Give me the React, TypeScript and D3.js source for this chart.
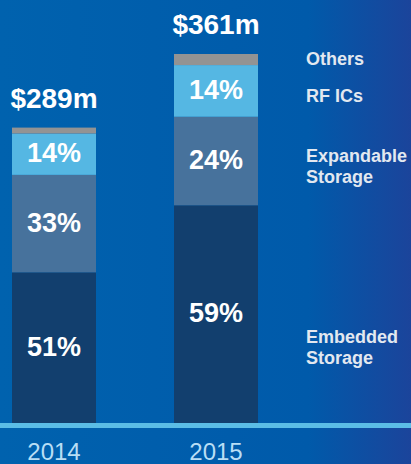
import * as d3 from "d3";
import React, { useRef, useEffect } from "react";

// chart data
const years = ["2014", "2015"];
const totals = [289, 361];
const segmentNames = ["Embedded Storage", "Expandable Storage", "RF ICs", "Others"];
const embedded = [51, 59];
const expandable = [33, 24];
const rfics = [14, 14];
const others = [2, 3];
const legendLines = [["Embedded", "Storage"], ["Expandable", "Storage"], ["RF ICs"], ["Others"]];

const W = 411;
const H = 464;
const FONT = "'Liberation Sans', Arial, Helvetica, sans-serif";

function App() {
  const svgRef = useRef<SVGSVGElement | null>(null);

  useEffect(() => {
    const svg = d3.select(svgRef.current);
    svg.selectAll("*").remove();

    const baseline = 423;
    const colors = ["#123f6e", "#47729c", "#55b7e3", "#939393"];

    // background gradient
    const defs = svg.append("defs");
    const grad = defs
      .append("linearGradient")
      .attr("id", "bg")
      .attr("x1", "0")
      .attr("x2", "1")
      .attr("y1", "0")
      .attr("y2", "0");
    grad.append("stop").attr("offset", "0").attr("stop-color", "#0062ae");
    grad.append("stop").attr("offset", "0.75").attr("stop-color", "#005aaa");
    grad.append("stop").attr("offset", "1").attr("stop-color", "#1b449b");
    svg.append("rect").attr("width", W).attr("height", H).attr("fill", "url(#bg)");

    // bar widths of 84 with a gap of 78
    const x = d3.scaleBand().domain(years).range([12, 258]).paddingInner(78 / 162).paddingOuter(0);
    const y = d3.scaleLinear().domain([0, 361]).range([baseline, 54]);

    // stacking: percentages of each year's total
    const rows = years.map((yr, i) => ({
      year: yr,
      total: totals[i],
      "Embedded Storage": embedded[i],
      "Expandable Storage": expandable[i],
      "RF ICs": rfics[i],
      Others: others[i],
    }));
    const stack = d3.stack<any>().keys(segmentNames)(rows);

    const toVal = (d: any, pct: number) => (d.data.total * pct) / 100;

    stack.forEach((layer, li) => {
      const g = svg.append("g");
      g.selectAll("rect")
        .data(layer)
        .enter()
        .append("rect")
        .attr("x", (d: any) => x(d.data.year)!)
        .attr("width", x.bandwidth())
        .attr("y", (d: any) => y(toVal(d, d[1])))
        .attr("height", (d: any) => y(toVal(d, d[0])) - y(toVal(d, d[1])))
        .attr("fill", colors[li]);

      // no label on the thin "Others" slice
      if (li < 3) {
        g.selectAll("text")
          .data(layer)
          .enter()
          .append("text")
          .attr("x", (d: any) => x(d.data.year)! + x.bandwidth() / 2)
          .attr("y", (d: any) => (y(toVal(d, d[0])) + y(toVal(d, d[1]))) / 2 + 8)
          .attr("text-anchor", "middle")
          .attr("font-family", FONT)
          .attr("font-weight", "bold")
          .attr("font-size", 27)
          .attr("fill", "#ffffff")
          .text((d: any) => `${d[1] - d[0]}%`);
      }
    });

    // totals above bars
    svg
      .selectAll(".total")
      .data(rows)
      .enter()
      .append("text")
      .attr("x", (d) => x(d.year)! + x.bandwidth() / 2)
      .attr("y", (d) => y(d.total) - 20)
      .attr("text-anchor", "middle")
      .attr("font-family", FONT)
      .attr("font-weight", "bold")
      .attr("font-size", 28)
      .attr("fill", "#ffffff")
      .text((d) => `$${d.total}m`);

    // axis line
    svg
      .append("rect")
      .attr("x", 0)
      .attr("y", baseline)
      .attr("width", W)
      .attr("height", 5)
      .attr("fill", "#5bbde6");

    // year labels
    svg
      .selectAll(".year")
      .data(years)
      .enter()
      .append("text")
      .attr("x", (d) => x(d)! + x.bandwidth() / 2)
      .attr("y", 460)
      .attr("text-anchor", "middle")
      .attr("font-family", FONT)
      .attr("font-size", 24)
      .attr("fill", "#b8def5")
      .text((d) => d);

    // legend on the right, first line baselines
    const legendY = [343, 162, 102, 65];
    legendLines.forEach((lines, i) => {
      const t = svg
        .append("text")
        .attr("x", 306)
        .attr("y", legendY[i])
        .attr("font-family", FONT)
        .attr("font-weight", "bold")
        .attr("font-size", 18)
        .attr("fill", "#e2e8f0");
      lines.forEach((ln, j) => {
        t.append("tspan").attr("x", 306).attr("dy", j === 0 ? 0 : 21).text(ln);
      });
    });
  }, []);

  return (
    <div style={{ position: "absolute", left: 0, top: 0 }}>
      <svg ref={svgRef} width={W} height={H} style={{ display: "block" }} />
    </div>
  );
}

export default App;
